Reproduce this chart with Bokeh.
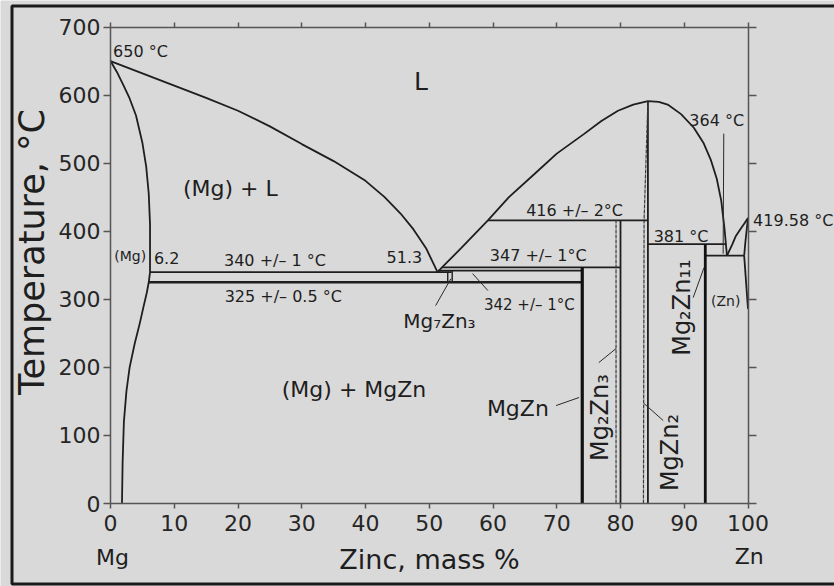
import math
from bokeh.plotting import figure
from bokeh.models import (Range1d, LinearAxis, ColumnDataSource,
                          BoxAnnotation, FixedTicker)
from bokeh.core.properties import value
from bokeh.embed import file_html
from bokeh.resources import INLINE

# ---------------- data ----------------
x_ticks = [0, 10, 20, 30, 40, 50, 60, 70, 80, 90, 100]
t_ticks = [0, 100, 200, 300, 400, 500, 600, 700]

# liquidus, Mg side (650 C -> eutectic 51.3 % / 340 C)
liq_mg_x = [0, 5, 10, 15, 20, 25, 30, 35, 40, 43, 45.5, 47.5, 49.5, 51.3]
liq_mg_t = [650, 632, 614, 596, 577, 554, 528, 503, 474, 450, 426, 403, 375, 340]
# (Mg) solidus
sol_mg_x = [0, 1.0, 2.0, 3.0, 4.0, 5.0, 5.6, 6.0, 6.2, 6.2]
sol_mg_t = [650, 634, 615, 595, 570, 530, 495, 455, 410, 340]
# (Mg) solvus
solv_mg_x = [6.2, 6.0, 5.7, 5.2, 4.6, 3.8, 3.0, 2.5, 2.1, 1.9, 1.8]
solv_mg_t = [340, 325, 310, 290, 265, 235, 200, 165, 120, 60, 0]
# liquidus, middle (eutectic -> MgZn2 maximum -> eutectic 364 C)
liq_mid_x = [51.3, 52.0, 55.0, 59.2, 62.5, 66.5, 70.0, 74.3, 77.0, 79.6, 82.0,
             84.3, 86.0, 87.4, 89.5, 91.5, 93.0, 94.2, 95.1, 95.8, 96.3, 96.7]
liq_mid_t = [340, 347, 375, 416, 450, 484, 514, 543, 562, 577, 586,
             591, 590, 586, 572, 552, 530, 504, 477, 445, 405, 364]
# liquidus, Zn side (364 C -> 419.58 C)
liq_zn_x = [96.7, 97.5, 98.1, 98.8, 99.4, 100]
liq_zn_t = [364, 380, 393, 403, 411, 419.58]
# (Zn) solidus and solvus
sol_zn_x = [100, 99.6, 99.4]
sol_zn_t = [419.58, 385, 364]
solv_zn_x = [99.4, 100]
solv_zn_t = [364, 286]

# invariant isotherms
iso_t = [340, 342, 347, 416, 381, 364]
iso_x0 = [6.2, 51.4, 52.0, 59.2, 84.3, 93.3]
iso_x1 = [53.5, 74.0, 80.0, 84.3, 96.4, 99.4]
eutectoid_t = [325]
eutectoid_x0 = [6.0]
eutectoid_x1 = [74.0]

# intermetallic phase lines
mg7zn3_x = [52.9, 53.6]
mg7zn3_t0 = [325, 325]
mg7zn3_t1 = [340, 342]
mgzn_x = [74.0]
mgzn_t1 = [347]
mg2zn3_x = [79.3, 80.0]
mg2zn3_t1 = [416, 416]
mgzn2_l_x = [83.6, 83.7, 84.3]
mgzn2_l_t = [0, 416, 591]
mgzn2_r_x = [84.3, 84.3]
mgzn2_r_t = [0, 591]
mg2zn11_x = [93.3]
mg2zn11_t1 = [381]

# leader lines (label -> phase)
lead_x0 = [51.0, 59.2, 69.9, 76.6, 83.7, 91.4, 96.2]
lead_t0 = [290.7, 312.8, 143.9, 207.0, 146.8, 302.5, 543.3]
lead_x1 = [53.4, 56.8, 73.5, 79.3, 86.7, 93.1, 96.1]
lead_t1 = [330.4, 337.7, 155.7, 227.6, 121.9, 346.5, 367.0]

# text labels
temp_text = ["650 °C", "6.2", "340 +/– 1 °C", "325 +/– 0.5 °C", "51.3",
             "347 +/– 1°C", "416 +/– 2°C", "381 °C", "364 °C"]
temp_x = [4.7, 8.8, 25.8, 27.1, 46.1, 67.1, 72.8, 89.5, 95.1]
temp_t = [664, 361, 357, 304.7, 362.7, 364.2, 430, 392, 562]
t342_text = ["342 +/– 1°C"]
t342_x = [65.7]
t342_t = [292.2]
small_text = ["(Mg)", "(Zn)"]
small_x = [3.1, 96.5]
small_t = [364, 298]
field_text = ["(Mg) + L", "(Mg) + MgZn", "MgZn"]
field_x = [18.8, 38.2, 63.9]
field_t = [462.6, 168, 139.5]
liq_text = ["L"]
liq_x = [48.7]
liq_t = [619.7]
mg7_text = ["Mg₇Zn₃"]
mg7_x = [51.6]
mg7_t = [268.7]
vert_text = ["Mg₂Zn₃", "MgZn₂", "Mg₂Zn₁₁"]
vert_x = [76.8, 87.8, 89.6]
vert_t = [126.3, 74.9, 287.8]
zn_melt_text = ["419.58 °C"]
zn_melt_x = [100.8]
zn_melt_t = [415.6]
end_text = ["Mg", "Zn"]
end_x = [0.3, 100.2]
end_t = [-79, -78]

# ---------------- layout: the frame fills the whole picture ----------------
W, H = 834, 586
PX0, PX100 = 110.0, 747.5      # pixel columns of 0 % and 100 %
PY0, PY700 = 503.0, 26.5       # pixel rows of 0 C and 700 C
sx = (PX100 - PX0) / 100.0
sy = (PY0 - PY700) / 700.0
x_lo, x_hi = -PX0 / sx, (W - PX0) / sx
y_lo, y_hi = -(H - PY0) / sy, PY0 / sy

FONT = "DejaVu Sans"
INK = "#1e1e1e"
AXC = "#555555"
BG = "#d9d9d9"

p = figure(width=W, height=H, output_backend="svg", toolbar_location=None,
           x_range=Range1d(x_lo, x_hi), y_range=Range1d(y_lo, y_hi),
           min_border=0, min_border_left=0, min_border_right=0,
           min_border_top=0, min_border_bottom=0,
           background_fill_color=BG, border_fill_color=BG,
           outline_line_color=None,
           x_axis_label="Zinc, mass %")
p.grid.visible = False


def style_axis(ax, ticks, tick_out, loc, bounds, labels=True):
    ax.fixed_location = loc
    ax.bounds = bounds
    ax.ticker = FixedTicker(ticks=ticks)
    ax.axis_line_color = AXC
    ax.axis_line_width = 1.5
    ax.major_tick_line_color = AXC
    ax.major_tick_line_width = 1.5
    ax.major_tick_in = 0
    ax.major_tick_out = tick_out
    ax.minor_tick_line_color = None
    ax.major_label_text_font = FONT
    ax.major_label_text_color = "#262626"
    if labels:
        ax.major_label_text_font_size = "22px"
    else:
        ax.major_label_text_font_size = "1px"
        ax.major_label_text_color = None
        ax.major_label_standoff = 0


xb = p.below[0]
yl = p.left[0]
style_axis(xb, x_ticks, 5, 0, (0, 100))
xb.major_label_standoff = 6
xb.axis_label_text_font = FONT
xb.axis_label_text_font_size = "27px"
xb.axis_label_text_font_style = "normal"
xb.axis_label_text_color = INK
xb.axis_label_standoff = 10

style_axis(yl, t_ticks, 7, 0, (0, 700))
yl.major_label_standoff = 3

# axis that only carries the temperature title (set a little above centre,
# as in the reference)
y_title = LinearAxis(axis_label="Temperature, °C")
y_title.fixed_location = 0
y_title.bounds = (0, 2 * (PY0 - 230.0) / sy)
y_title.ticker = FixedTicker(ticks=[])
y_title.axis_line_color = None
y_title.major_tick_line_color = None
y_title.minor_tick_line_color = None
y_title.major_label_text_font_size = "1px"
y_title.major_label_text_color = None
y_title.major_label_standoff = 0
y_title.axis_label_text_font = FONT
y_title.axis_label_text_font_size = "35px"
y_title.axis_label_text_font_style = "normal"
y_title.axis_label_text_color = INK
y_title.axis_label_standoff = 59
p.add_layout(y_title, "left")

xt = LinearAxis()
style_axis(xt, x_ticks, 5, 700, (0, 100), labels=False)
p.add_layout(xt, "above")
yr = LinearAxis()
style_axis(yr, t_ticks, 8, 100, (0, 700), labels=False)
p.add_layout(yr, "right")

# phase boundaries
for xs, ts in [(liq_mg_x, liq_mg_t), (sol_mg_x, sol_mg_t), (solv_mg_x, solv_mg_t),
               (liq_mid_x, liq_mid_t), (liq_zn_x, liq_zn_t), (sol_zn_x, sol_zn_t),
               (solv_zn_x, solv_zn_t), (mgzn2_r_x, mgzn2_r_t)]:
    p.line(xs, ts, line_color=INK, line_width=1.8)
p.line(mgzn2_l_x, mgzn2_l_t, line_color="#3a3a3a", line_width=1.2, line_dash="4 1")

p.segment(x0=iso_x0, y0=iso_t, x1=iso_x1, y1=iso_t, line_color=INK, line_width=1.7)
p.segment(x0=eutectoid_x0, y0=eutectoid_t, x1=eutectoid_x1, y1=eutectoid_t,
          line_color=INK, line_width=2.6)
p.segment(x0=mg7zn3_x, y0=mg7zn3_t0, x1=mg7zn3_x, y1=mg7zn3_t1,
          line_color=INK, line_width=1.4)
p.segment(x0=mgzn_x, y0=[0] * len(mgzn_x), x1=mgzn_x, y1=mgzn_t1,
          line_color="#111111", line_width=3.2)
p.segment(x0=mg2zn3_x[:1], y0=[0], x1=mg2zn3_x[:1], y1=mg2zn3_t1[:1],
          line_color="#3a3a3a", line_width=1.2, line_dash="4 1")
p.segment(x0=mg2zn3_x[1:], y0=[0], x1=mg2zn3_x[1:], y1=mg2zn3_t1[1:],
          line_color=INK, line_width=1.8)
p.segment(x0=mg2zn11_x, y0=[0] * len(mg2zn11_x), x1=mg2zn11_x, y1=mg2zn11_t1,
          line_color="#111111", line_width=2.8)
p.segment(x0=lead_x0, y0=lead_t0, x1=lead_x1, y1=lead_t1,
          line_color="#2a2a2a", line_width=1.0)


def add_text(texts, xs, ts, size, angle=0.0, align="center"):
    src = ColumnDataSource(dict(x=xs, y=ts, text=texts))
    p.text(x="x", y="y", text="text", source=src, angle=angle,
           text_font=value(FONT), text_font_size=size, text_color=INK,
           text_align=align, text_baseline="middle")


add_text(temp_text, temp_x, temp_t, "16px")
add_text(t342_text, t342_x, t342_t, "15px")
add_text(small_text, small_x, small_t, "14px")
add_text(field_text, field_x, field_t, "22px")
add_text(liq_text, liq_x, liq_t, "25px")
add_text(mg7_text, mg7_x, mg7_t, "20px")
add_text(vert_text, vert_x, vert_t, "24px", angle=math.pi / 2)
add_text(zn_melt_text, zn_melt_x, zn_melt_t, "16px", align="left")
add_text(end_text, end_x, end_t, "22px")

# outer picture border (left, top, bottom edges of the reference frame)
p.add_layout(BoxAnnotation(left=(11.5 - PX0) / sx, right=(850 - PX0) / sx,
                           top=(PY0 - 5.5) / sy, bottom=(PY0 - 583.5) / sy,
                           fill_color=None, line_color="#1a1a1a",
                           line_alpha=1.0, line_width=3))

open("out.html", "w").write(file_html(p, INLINE))
